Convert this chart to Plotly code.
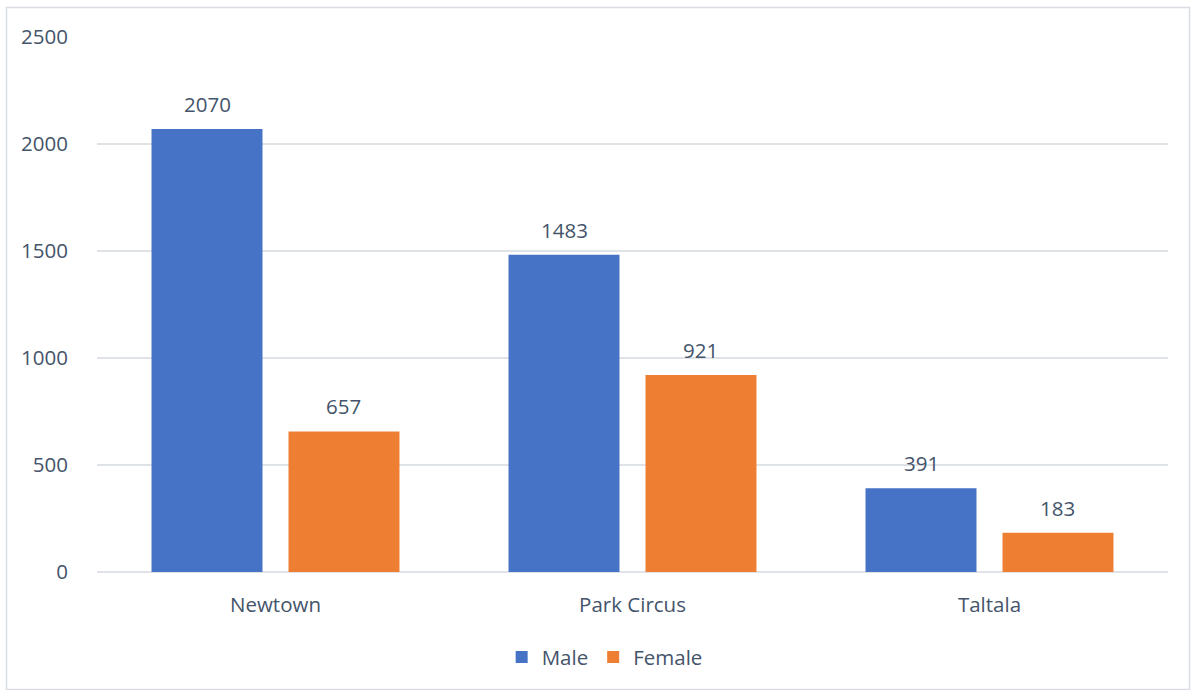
import plotly.graph_objects as go

# Population by locality and sex
localities = ["Newtown", "Park Circus", "Taltala"]
male = [2070, 1483, 391]
female = [657, 921, 183]
y_ticks = [0, 500, 1000, 1500, 2000, 2500]

TEXT = "#44546a"
FONT = "Open Sans"
FS = 20.5
W, H = 1192, 690
L, R, T, B = 97, 24, 37, 118

BARGAP = 0.2325
GROUPGAP = 0.19
cat_px = (W - L - R) / len(localities)
slot_px = cat_px * (1 - BARGAP) / 2
half = slot_px / 2

fig = go.Figure()
fig.add_trace(go.Bar(name="Male", x=localities, y=male,
                     marker=dict(color="#4773c6", line=dict(width=0))))
fig.add_trace(go.Bar(name="Female", x=localities, y=female,
                     marker=dict(color="#ee7e31", line=dict(width=0))))

# value labels above each bar
for vals, shift in ((male, -half), (female, half)):
    for cat, v in zip(localities, vals):
        fig.add_annotation(x=cat, y=v, text=str(v), xref="x", yref="y",
                           xshift=shift, yshift=9, yanchor="bottom",
                           showarrow=False, font=dict(family=FONT, size=FS, color=TEXT))

# thin chart frame
fig.add_shape(type="rect", xref="paper", yref="paper",
              x0=(6.5 - L) / (W - L - R), x1=(1189.5 - L) / (W - L - R),
              y0=-(689.5 - (H - B)) / (H - T - B), y1=1 + (T - 7.5) / (H - T - B),
              line=dict(color="#d9dde3", width=1.5), fillcolor="rgba(0,0,0,0)", layer="below")

fig.update_layout(
    width=W, height=H,
    margin=dict(l=L, r=R, t=T, b=B, pad=0),
    paper_bgcolor="white", plot_bgcolor="white",
    barmode="group", bargap=BARGAP, bargroupgap=GROUPGAP,
    font=dict(family=FONT, size=FS, color=TEXT),
    showlegend=True,
    legend=dict(orientation="h", x=0.474, xanchor="center", y=-0.159, yanchor="middle",
                font=dict(family=FONT, size=FS, color=TEXT), itemwidth=30,
                traceorder="normal"),
    xaxis=dict(showgrid=False, showline=False, zeroline=False,
               ticks="outside", ticklen=14, tickcolor="rgba(0,0,0,0)",
               tickfont=dict(family=FONT, size=FS, color=TEXT)),
    yaxis=dict(range=[0, 2500], tickvals=y_ticks, showgrid=True, gridcolor="#dfe3e8",
               gridwidth=1.5, zeroline=True, zerolinecolor="#dfe3e8", zerolinewidth=1.5,
               showline=False, ticks="outside", ticklen=24, tickcolor="rgba(0,0,0,0)",
               tickfont=dict(family=FONT, size=FS, color=TEXT)),
)

fig.write_html("out.html")
